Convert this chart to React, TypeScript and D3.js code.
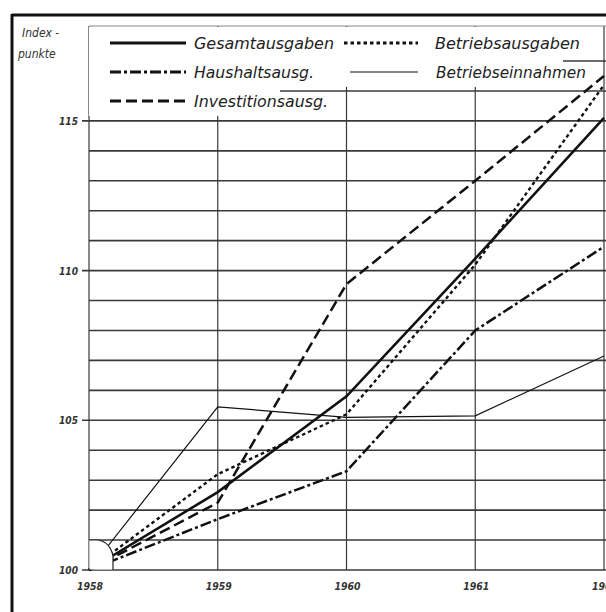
import React from "react";
import * as d3 from "d3";

const years = [1958, 1959, 1960, 1961, 1962];
const gesamtausgaben = [100, 102.6, 105.8, 110.4, 115.1];
const betriebsausgaben = [100, 103.2, 105.2, 110.2, 116.2];
const haushaltsausg = [100, 101.7, 103.3, 108.0, 110.8];
const betriebseinnahmen = [100, 105.45, 105.1, 105.15, 107.15];
const investitionsausg = [100, 102.25, 109.55, 113.0, 116.5];
const yLabels = [100, 105, 110, 115];
const gridValues = d3.range(100, 118);

const font = "'DejaVu Sans Condensed', 'DejaVu Sans', sans-serif";

const App = () => {
  const width = 606;
  const height = 612;
  const left = 89;

  const x = d3.scaleLinear().domain([1958, 1962]).range([left, 604]);
  const y = d3.scaleLinear().domain([100, 118.17]).range([570, 26]);

  const line = d3
    .line<number>()
    .x((d, i) => x(years[i]))
    .y((d) => y(d));

  // styles of the five series
  const series = [
    { name: "Gesamtausgaben", values: gesamtausgaben, w: 2.6, dash: null },
    { name: "Betriebsausgaben", values: betriebsausgaben, w: 2.4, dash: "3.5,3" },
    { name: "Haushaltsausg.", values: haushaltsausg, w: 2.5, dash: "11,3,3,3" },
    { name: "Betriebseinnahmen", values: betriebseinnahmen, w: 1.2, dash: null },
    { name: "Investitionsausg.", values: investitionsausg, w: 2.5, dash: "11,5" },
  ];

  const legend = [
    { s: 0, x1: 110, x2: 186, tx: 194, tw: 140, ty: 43 },
    { s: 1, x1: 344, x2: 418, tx: 435, tw: 145, ty: 43 },
    { s: 2, x1: 110, x2: 186, tx: 194, tw: 120, ty: 72 },
    { s: 3, x1: 350, x2: 418, tx: 436, tw: 150, ty: 72 },
    { s: 4, x1: 110, x2: 186, tx: 194, tw: 134, ty: 101 },
  ];

  return (
    <svg
      width={width}
      height={height}
      style={{ position: "absolute", left: 0, top: 0, background: "#fff" }}
    >
      <rect width={width} height={height} fill="#fff" />

      {/* horizontal grid */}
      {gridValues.map((v) => (
        <line
          key={"h" + v}
          x1={yLabels.includes(v) ? left - 7 : left}
          x2={width}
          y1={y(v)}
          y2={y(v)}
          stroke="#3a3a3a"
          strokeWidth={1.6}
        />
      ))}
      {/* vertical grid */}
      {years.map((yr) => (
        <line
          key={"v" + yr}
          x1={x(yr)}
          x2={x(yr)}
          y1={26}
          y2={y(100)}
          stroke="#3a3a3a"
          strokeWidth={1.2}
        />
      ))}

      {/* legend background */}
      <path d="M89,27 L563,27 L563,87 L280,87 L280,116 L89,116 Z" fill="#fff" />
      <line x1={left} x2={width} y1={26} y2={26} stroke="#888" strokeWidth={1} />

      {series.map((s) => (
        <path
          key={s.name}
          d={line(s.values) || ""}
          fill="none"
          stroke="#111"
          strokeWidth={s.w}
          strokeDasharray={s.dash || undefined}
        />
      ))}

      {/* origin mark */}
      <path
        d="M89.5,540 L98,540 Q110,542 113,556 L113,569.5 L89.5,569.5 Z"
        fill="#fff"
        stroke="none"
      />
      <path
        d="M89.5,540 L98,540 Q110,542 113,556 L113,570"
        fill="none"
        stroke="#222"
        strokeWidth={1.2}
      />

      {/* legend */}
      {legend.map((l) => {
        const s = series[l.s];
        return (
          <g key={"l" + l.s}>
            <line
              x1={l.x1}
              x2={l.x2}
              y1={l.ty}
              y2={l.ty}
              stroke="#111"
              strokeWidth={s.w === 1.2 ? 1.2 : 3}
              strokeDasharray={s.dash || undefined}
            />
            <text
              x={l.tx}
              y={l.ty + 6}
              fontFamily={font}
              fontStyle="italic"
              fontSize={16}
              fill="#222"
              textLength={l.tw}
              lengthAdjust="spacingAndGlyphs"
            >
              {s.name}
            </text>
          </g>
        );
      })}

      {/* y labels */}
      {yLabels.map((v) => (
        <text
          key={"yl" + v}
          x={78}
          y={y(v) + 4}
          textAnchor="end"
          fontFamily={font}
          fontStyle="italic"
          fontWeight="bold"
          fontSize={11}
          fill="#333"
          textLength={19}
          lengthAdjust="spacingAndGlyphs"
        >
          {v}
        </text>
      ))}
      <text x={22} y={37} fontFamily={font} fontStyle="italic" fontSize={12} fill="#333">
        Index -
      </text>
      <text x={18} y={58} fontFamily={font} fontStyle="italic" fontSize={12} fill="#333">
        punkte
      </text>

      {/* x labels */}
      {years.map((yr) => (
        <text
          key={"xl" + yr}
          x={x(yr) + 1}
          y={590}
          textAnchor="middle"
          fontFamily={font}
          fontStyle="italic"
          fontWeight="bold"
          fontSize={11}
          fill="#333"
          textLength={26}
          lengthAdjust="spacingAndGlyphs"
        >
          {yr}
        </text>
      ))}

      {/* frame */}
      <line x1={12} x2={width} y1={15} y2={15} stroke="#111" strokeWidth={3} />
      <line x1={12} x2={12} y1={14} y2={height} stroke="#111" strokeWidth={3} />
    </svg>
  );
};

export default App;
